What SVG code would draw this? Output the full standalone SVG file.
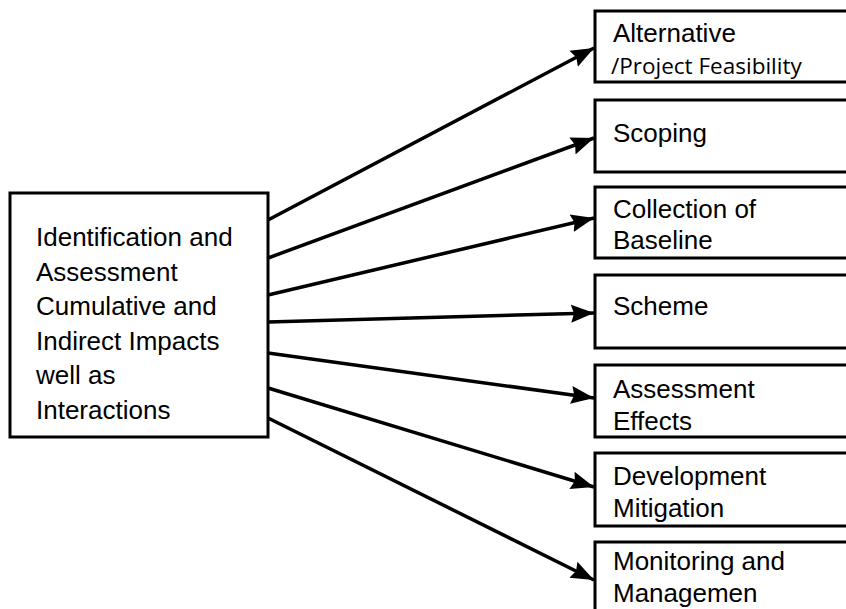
<svg xmlns="http://www.w3.org/2000/svg" width="846" height="609" viewBox="0 0 846 609">
<defs>
<marker id="ah" markerUnits="userSpaceOnUse" markerWidth="24" markerHeight="20" refX="23" refY="10" orient="auto" viewBox="0 0 24 20">
<path d="M0,1 L23,10 L0,19 L3,10 Z" fill="#000"/>
</marker>
<style>
.box{fill:#fff;stroke:#000;stroke-width:3}
.t{font-family:"Liberation Sans",Arial,sans-serif;font-size:26px;fill:#000}
.h{font-family:"Open Sans","Noto Sans",sans-serif;font-size:22.5px;fill:#000}
.c{stroke:#000;stroke-width:3.5;fill:none;marker-end:url(#ah)}
</style>
</defs>
<rect width="846" height="609" fill="#fff"/>
<g id="connectors">
<line class="c" x1="268" y1="220" x2="594" y2="48"/>
<line class="c" x1="268" y1="258" x2="594" y2="138"/>
<line class="c" x1="268" y1="295" x2="594" y2="218"/>
<line class="c" x1="268" y1="322" x2="594" y2="313"/>
<line class="c" x1="268" y1="353" x2="594" y2="398"/>
<line class="c" x1="268" y1="388" x2="594" y2="487"/>
<line class="c" x1="268" y1="418" x2="594" y2="580"/>
</g>
<g id="main">
<rect class="box" x="10" y="193" width="258" height="244"/>
<text class="t" x="36"><tspan x="36" y="246">Identification and</tspan><tspan x="36" y="281">Assessment</tspan><tspan x="36" y="315">Cumulative and</tspan><tspan x="36" y="350">Indirect Impacts</tspan><tspan x="36" y="384">well as</tspan><tspan x="36" y="419">Interactions</tspan></text>
</g>
<g id="n1">
<rect class="box" x="595" y="11" width="270" height="71"/>
<text class="t" x="613" y="42">Alternative</text>
<text class="h" x="611" y="74">/Project Feasibility</text>
</g>
<g id="n2">
<rect class="box" x="595" y="100" width="270" height="72"/>
<text class="t" x="613" y="142">Scoping</text>
</g>
<g id="n3">
<rect class="box" x="595" y="187" width="270" height="71"/>
<text class="t" x="613" y="218">Collection of</text>
<text class="t" x="613" y="249">Baseline</text>
</g>
<g id="n4">
<rect class="box" x="595" y="275" width="270" height="73"/>
<text class="t" x="613" y="315">Scheme</text>
</g>
<g id="n5">
<rect class="box" x="595" y="365" width="270" height="72"/>
<text class="t" x="613" y="398">Assessment</text>
<text class="t" x="613" y="430">Effects</text>
</g>
<g id="n6">
<rect class="box" x="595" y="453" width="270" height="73"/>
<text class="t" x="613" y="485">Development</text>
<text class="t" x="613" y="517">Mitigation</text>
</g>
<g id="n7">
<rect class="box" x="595" y="542" width="270" height="80"/>
<text class="t" x="613" y="570">Monitoring and</text>
<text class="t" x="613" y="602">Managemen</text>
</g>
</svg>
